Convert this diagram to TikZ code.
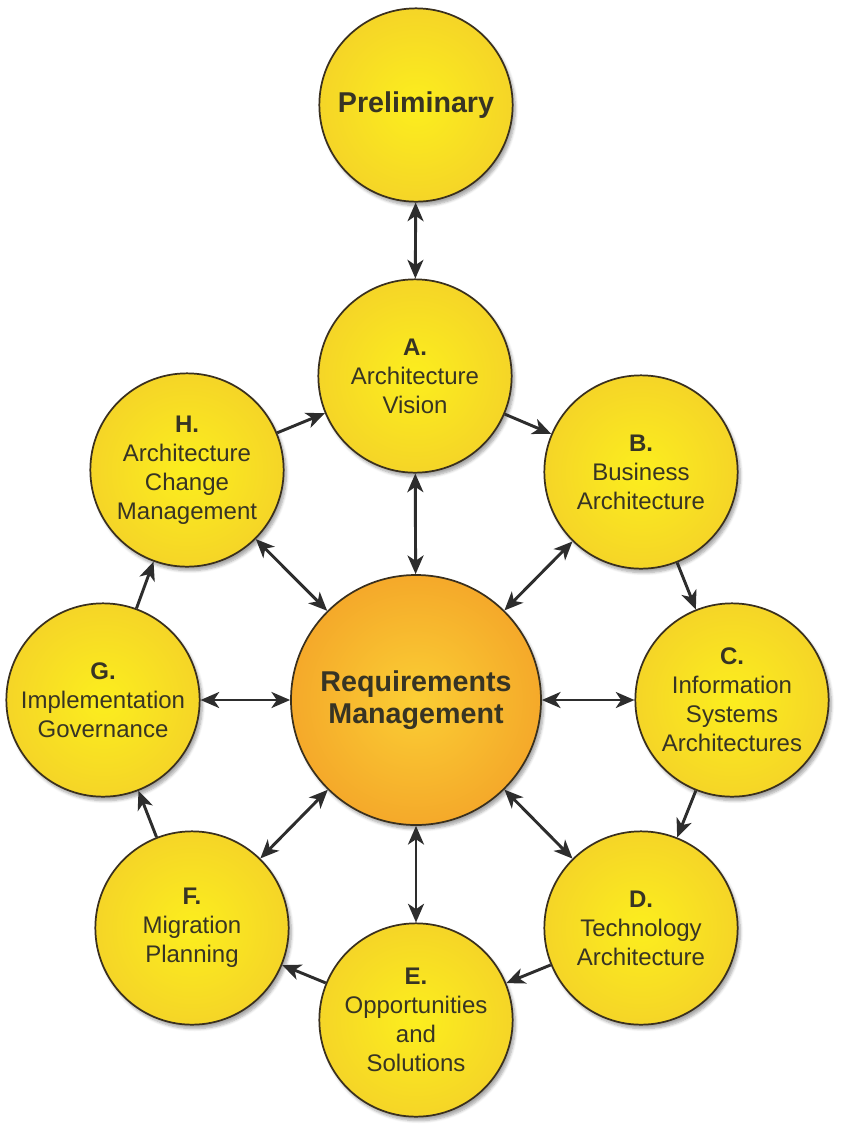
\documentclass[tikz,border=0pt]{standalone}
\usepackage{fontspec}
\setmainfont{Liberation Sans}
\usepackage{tikz}
\usetikzlibrary{arrows.meta, shapes, shadows.blur}

\definecolor{phaseIn}{RGB}{252,238,30}
\definecolor{phaseOut}{RGB}{238,188,48}
\definecolor{reqIn}{RGB}{251,206,52}
\definecolor{reqOut}{RGB}{238,132,32}
\definecolor{rim}{RGB}{58,48,30}
\definecolor{txt}{RGB}{55,52,36}
\definecolor{tip}{RGB}{45,45,45}

\pgfdeclareradialshading{phaseglow}{\pgfpoint{0bp}{0bp}}{color(0bp)=(phaseIn); color(50bp)=(phaseOut)}
\pgfdeclareradialshading{reqglow}{\pgfpoint{0bp}{0bp}}{color(0bp)=(reqIn); color(50bp)=(reqOut)}

\begin{document}
\begin{tikzpicture}[x=0.75pt,y=-0.75pt,>={Stealth[length=14pt,width=12pt,inset=4pt]}]
\useasboundingbox (0,0) rectangle (850,1133);
%\tikzstyle{phase}=[circle,draw=rim,shading=phaseglow,minimum size=145pt]
\begin{scope}[every node/.style={circle,draw=rim,line width=1.3pt,shading=phaseglow,minimum size=145pt,inner sep=0pt,align=center,text=txt,font=\fontsize{18}{21.75}\selectfont,blur shadow={shadow xshift=2pt,shadow yshift=-3pt,shadow blur steps=6,shadow opacity=35}}]
    \node (pre) at (416,105) {\fontsize{21.5}{24}\selectfont\textbf{Preliminary}};
    \node (A) at (415,376) {\textbf{A.}\\Architecture\\Vision};
    \node (B) at (641,472) {\textbf{B.}\\Business\\Architecture};
    \node (C) at (732,700) {\textbf{C.}\\Information\\Systems\\Architectures};
    \node (D) at (641,928) {\textbf{D.}\\Technology\\Architecture};
    \node (E) at (416,1020) {\textbf{E.}\\Opportunities\\and\\Solutions};
    \node (F) at (192,928) {\textbf{F.}\\Migration\\Planning};
    \node (G) at (103,700) {\textbf{G.}\\Implementation\\Governance};
    \node (H) at (187,470) {\textbf{H.}\\Architecture\\Change\\Management};
    \node (req) at (416,700) [shading=reqglow,minimum size=187.5pt,font=\fontsize{21.5}{24}\selectfont\bfseries] {Requirements\\Management};
\end{scope}
\begin{scope}[every edge/.style={draw=tip,line width=2.2pt}]
    \path [<->] (pre) edge (A);
    \path [->] (A) edge (B);
    \path [->] (B) edge (C);
    \path [->] (C) edge (D);
    \path [->] (D) edge (E);
    \path [->] (E) edge (F);
    \path [->] (F) edge (G);
    \path [->] (G) edge (H);
    \path [->] (H) edge (A);
    \path [<->] (req) edge (A);
    \path [<->] (req) edge (B);
    \path [<->] (req) edge (C);
    \path [<->] (req) edge (D);
    \path [<->] (req) edge (E);
    \path [<->] (req) edge (F);
    \path [<->] (req) edge (G);
    \path [<->] (req) edge (H);
\end{scope}
\end{tikzpicture}
\end{document}
